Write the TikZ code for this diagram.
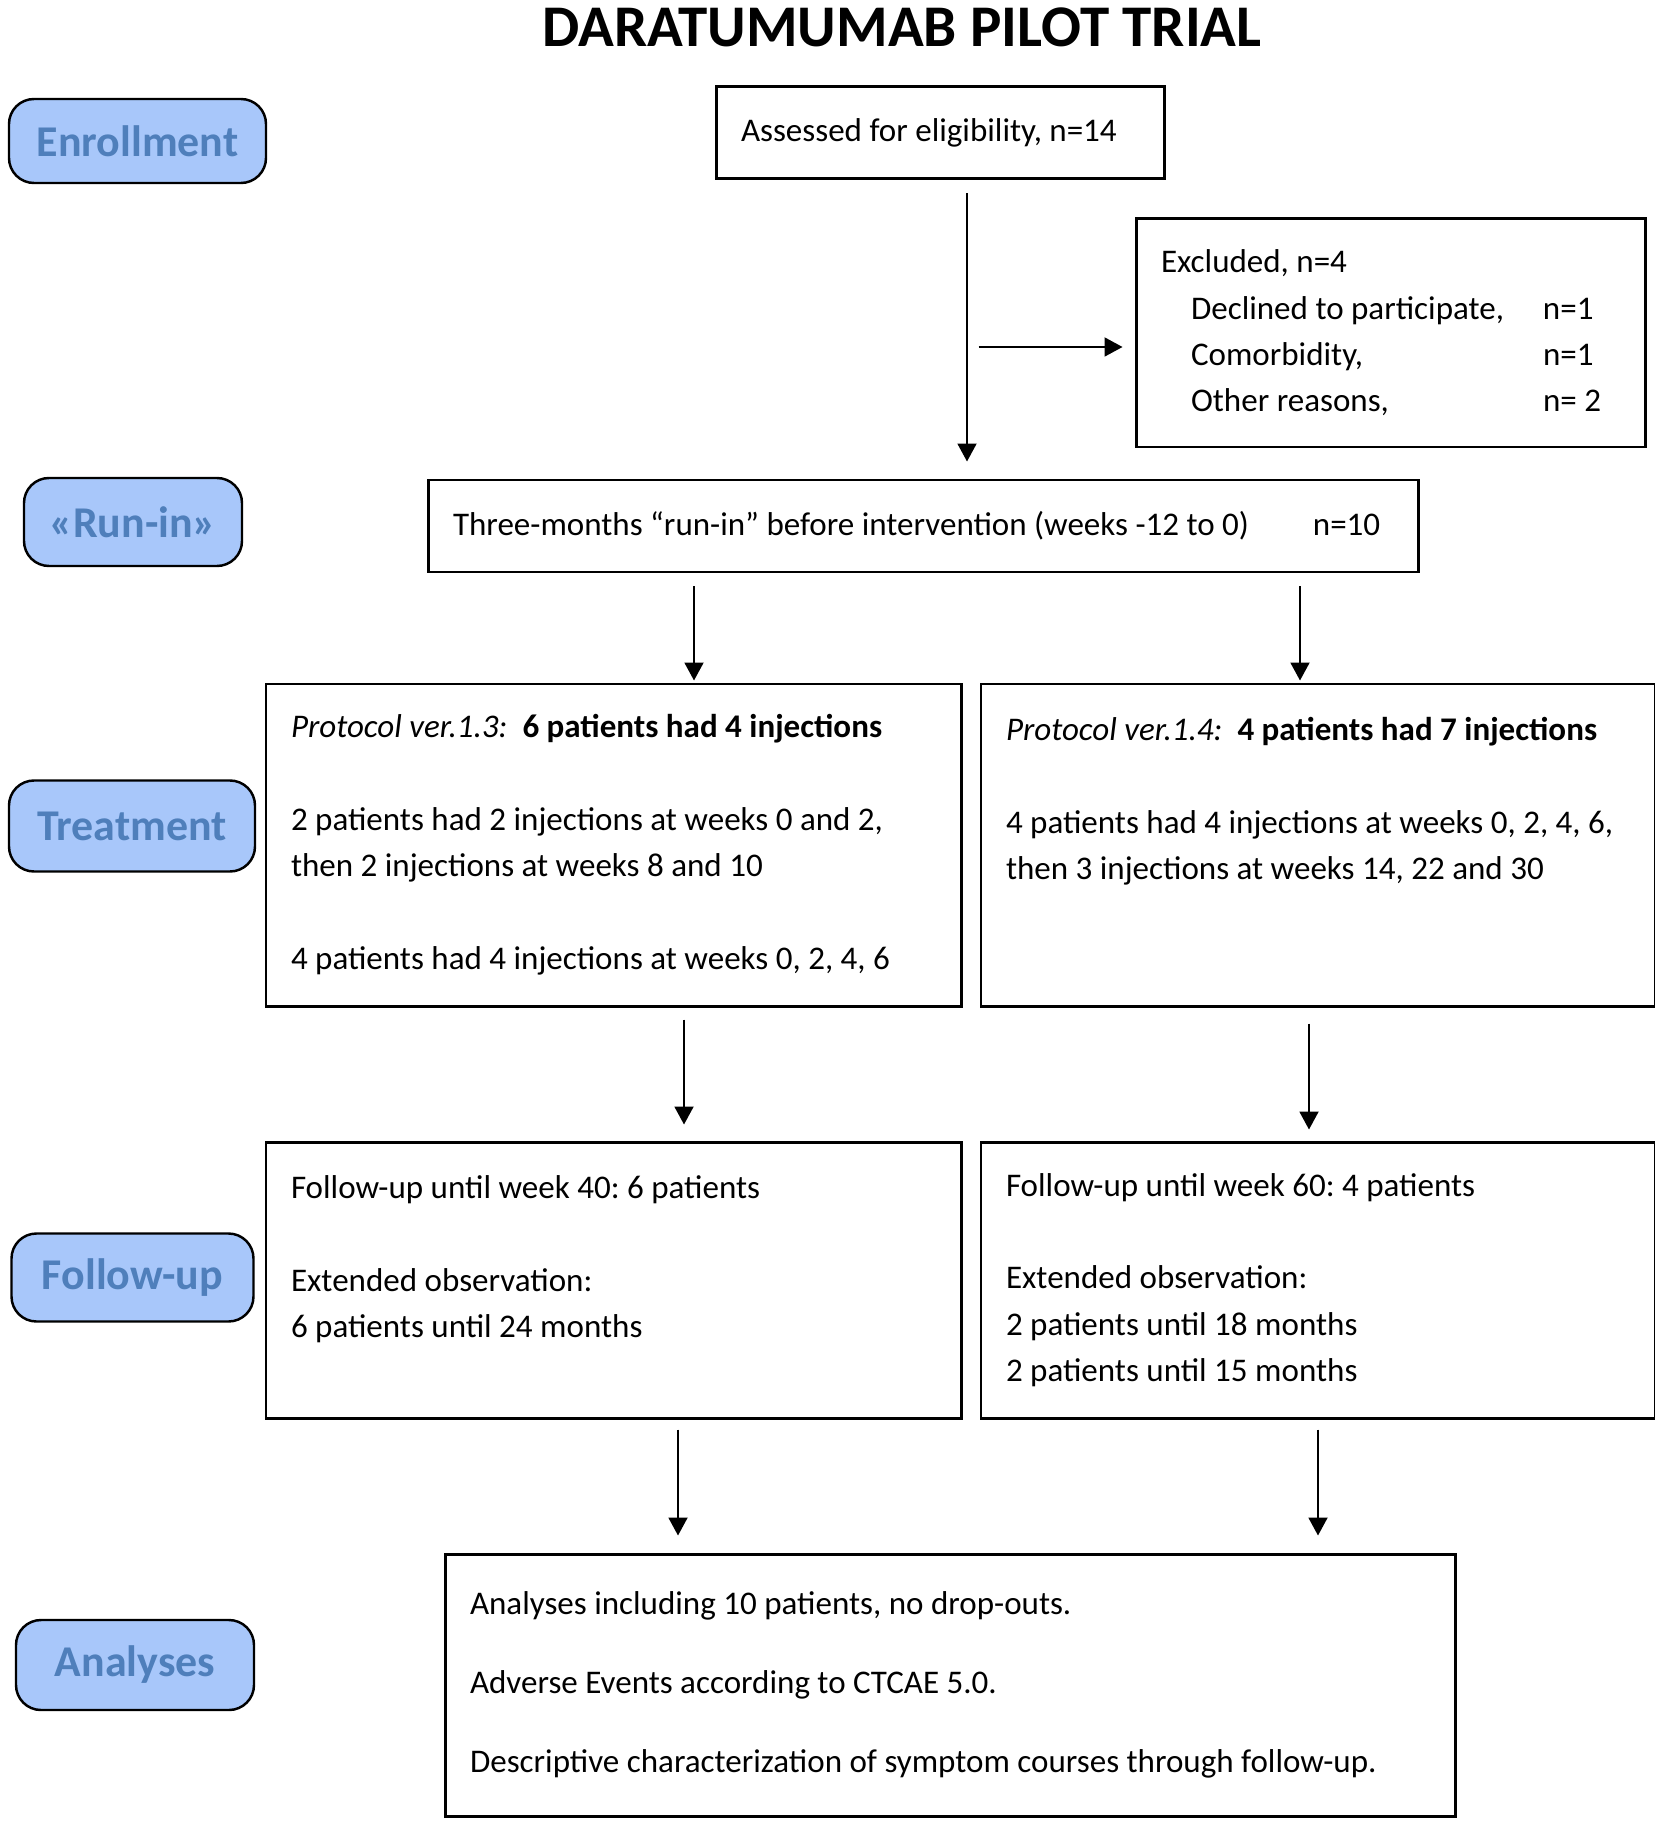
\documentclass[tikz,border=0pt]{standalone}
\usepackage{fontspec}
\setmainfont{Carlito}
\usetikzlibrary{positioning}
\usetikzlibrary{calc}
\usetikzlibrary{arrows.meta}
\definecolor{stagefill}{RGB}{168,199,250}
\definecolor{stagetext}{RGB}{79,127,187}
\newcommand{\bodyFont}{\fontsize{9.4}{13.2}\selectfont\frenchspacing}
\newcommand{\stageFont}{\fontsize{12.5}{15}\selectfont\bfseries}
\newcommand{\headFont}{\fontsize{16.8}{20}\selectfont\bfseries}

\begin{document}
\begin{tikzpicture}[
        stage/.style={draw=black, line width=0.7pt, rounded corners=2.5mm, fill=stagefill, text=stagetext, font=\stageFont, inner sep=0pt},
        flowbox/.style={draw=black, line width=0.85pt, align=flush left, font=\bodyFont, inner xsep=2.5mm, inner ysep=0pt},
        flowarrow/.style={-{Triangle[length=1.8mm, width=1.9mm]}, line width=0.55pt}]

        \useasboundingbox (0,0) rectangle (16.54,-18.25);

        % Title
        \node[font=\headFont] (trialTitle) at (9.02,-0.27) {DARATUMUMAB PILOT TRIAL};

        % Stage labels
        \node[stage, minimum width=2.57cm, minimum height=0.84cm] (enrolLabel) at (1.375,-1.41) {Enrollment};
        \node[stage, minimum width=2.18cm, minimum height=0.88cm] (runinLabel) at (1.33,-5.22) {«Run-in»};
        \node[stage, minimum width=2.46cm, minimum height=0.91cm] (treatLabel) at (1.32,-8.26) {Treatment};
        \node[stage, minimum width=2.42cm, minimum height=0.88cm] (followLabel) at (1.325,-12.775) {Follow-up};
        \node[stage, minimum width=2.38cm, minimum height=0.90cm] (analysesLabel) at (1.35,-16.65) {Analyses};

        % Enrollment
        \node[flowbox, text width=3.98cm, minimum height=0.92cm] (assessBox) at (9.40,-1.33) {Assessed for eligibility, n=14};
        \node[flowbox, text width=4.59cm, minimum height=2.28cm] (exclBox) at (13.905,-3.33) {%
            Excluded, n=4\\
            \hspace*{3mm}\makebox[3.52cm][l]{Declined to participate,}n=1\\
            \hspace*{3mm}\makebox[3.52cm][l]{Comorbidity,}n=1\\
            \hspace*{3mm}\makebox[3.52cm][l]{Other reasons,}n= 2};

        % Run-in
        \node[flowbox, text width=9.40cm, minimum height=0.92cm] (runinBox) at (9.23,-5.26) {%
            \makebox[8.60cm][l]{Three-months “run-in” before intervention (weeks -12 to 0)}n=10};

        % Treatment boxes
        \node[flowbox, text width=6.45cm, minimum height=3.22cm] (treatLeftBox) at (6.135,-8.45) {%
            \textit{Protocol ver.1.3:}\ \ \textbf{6 patients had 4 injections}\\[13.2pt]
            2 patients had 2 injections at weeks 0 and 2,\\
            then 2 injections at weeks 8 and 10\\[13.2pt]
            4 patients had 4 injections at weeks 0, 2, 4, 6};
        \node[flowbox, text width=6.24cm, minimum height=3.22cm, right=1.7mm of treatLeftBox] (treatRightBox) {%
            \textit{Protocol ver.1.4:}\ \ \textbf{4 patients had 7 injections}\\[13.2pt]
            4 patients had 4 injections at weeks 0, 2, 4, 6,\\
            then 3 injections at weeks 14, 22 and 30\\[13.2pt]
            \mbox{}};

        % Follow-up boxes
        \node[flowbox, text width=6.45cm, minimum height=2.76cm] (followLeftBox) at (6.135,-12.80) {%
            Follow-up until week 40: 6 patients\\[13.2pt]
            Extended observation:\\
            6 patients until 24 months\\
            \mbox{}};
        \node[flowbox, text width=6.24cm, minimum height=2.76cm, right=1.7mm of followLeftBox] (followRightBox) {%
            Follow-up until week 60: 4 patients\\[13.2pt]
            Extended observation:\\
            2 patients until 18 months\\
            2 patients until 15 months};

        % Analyses
        \node[flowbox, text width=9.60cm, minimum height=2.62cm] (analysesBox) at (9.50,-16.85) {%
            Analyses including 10 patients, no drop-outs.\\[9.3pt]
            Adverse Events according to CTCAE 5.0.\\[9.3pt]
            Descriptive characterization of symptom courses through follow-up.};

        % Arrows
        \draw[flowarrow] ($(assessBox.south)+(0.27,-0.13)$) -- ($(assessBox.south |- runinBox.north)+(0.27,0.17)$);
        \draw[flowarrow] ($(exclBox.west)+(-1.56,-0.14)$) -- ($(exclBox.west)+(-0.12,-0.14)$);
        \draw[flowarrow] ($(treatLeftBox.north |- runinBox.south)+(0.805,-0.13)$) -- ($(treatLeftBox.north)+(0.805,0.02)$);
        \draw[flowarrow] ($(treatRightBox.north |- runinBox.south)+(-0.18,-0.13)$) -- ($(treatRightBox.north)+(-0.18,0.02)$);
        \draw[flowarrow] ($(treatLeftBox.south)+(0.705,-0.12)$) -- ($(followLeftBox.north)+(0.705,0.16)$);
        \draw[flowarrow] ($(treatRightBox.south)+(-0.09,-0.16)$) -- ($(followRightBox.north)+(-0.09,0.11)$);
        \draw[flowarrow] ($(followLeftBox.south)+(0.645,-0.10)$) -- ($(followLeftBox.south |- analysesBox.north)+(0.645,0.17)$);
        \draw[flowarrow] ($(followRightBox.south)+(0,-0.10)$) -- ($(followRightBox.south |- analysesBox.north)+(0,0.17)$);

\end{tikzpicture}
\end{document}
